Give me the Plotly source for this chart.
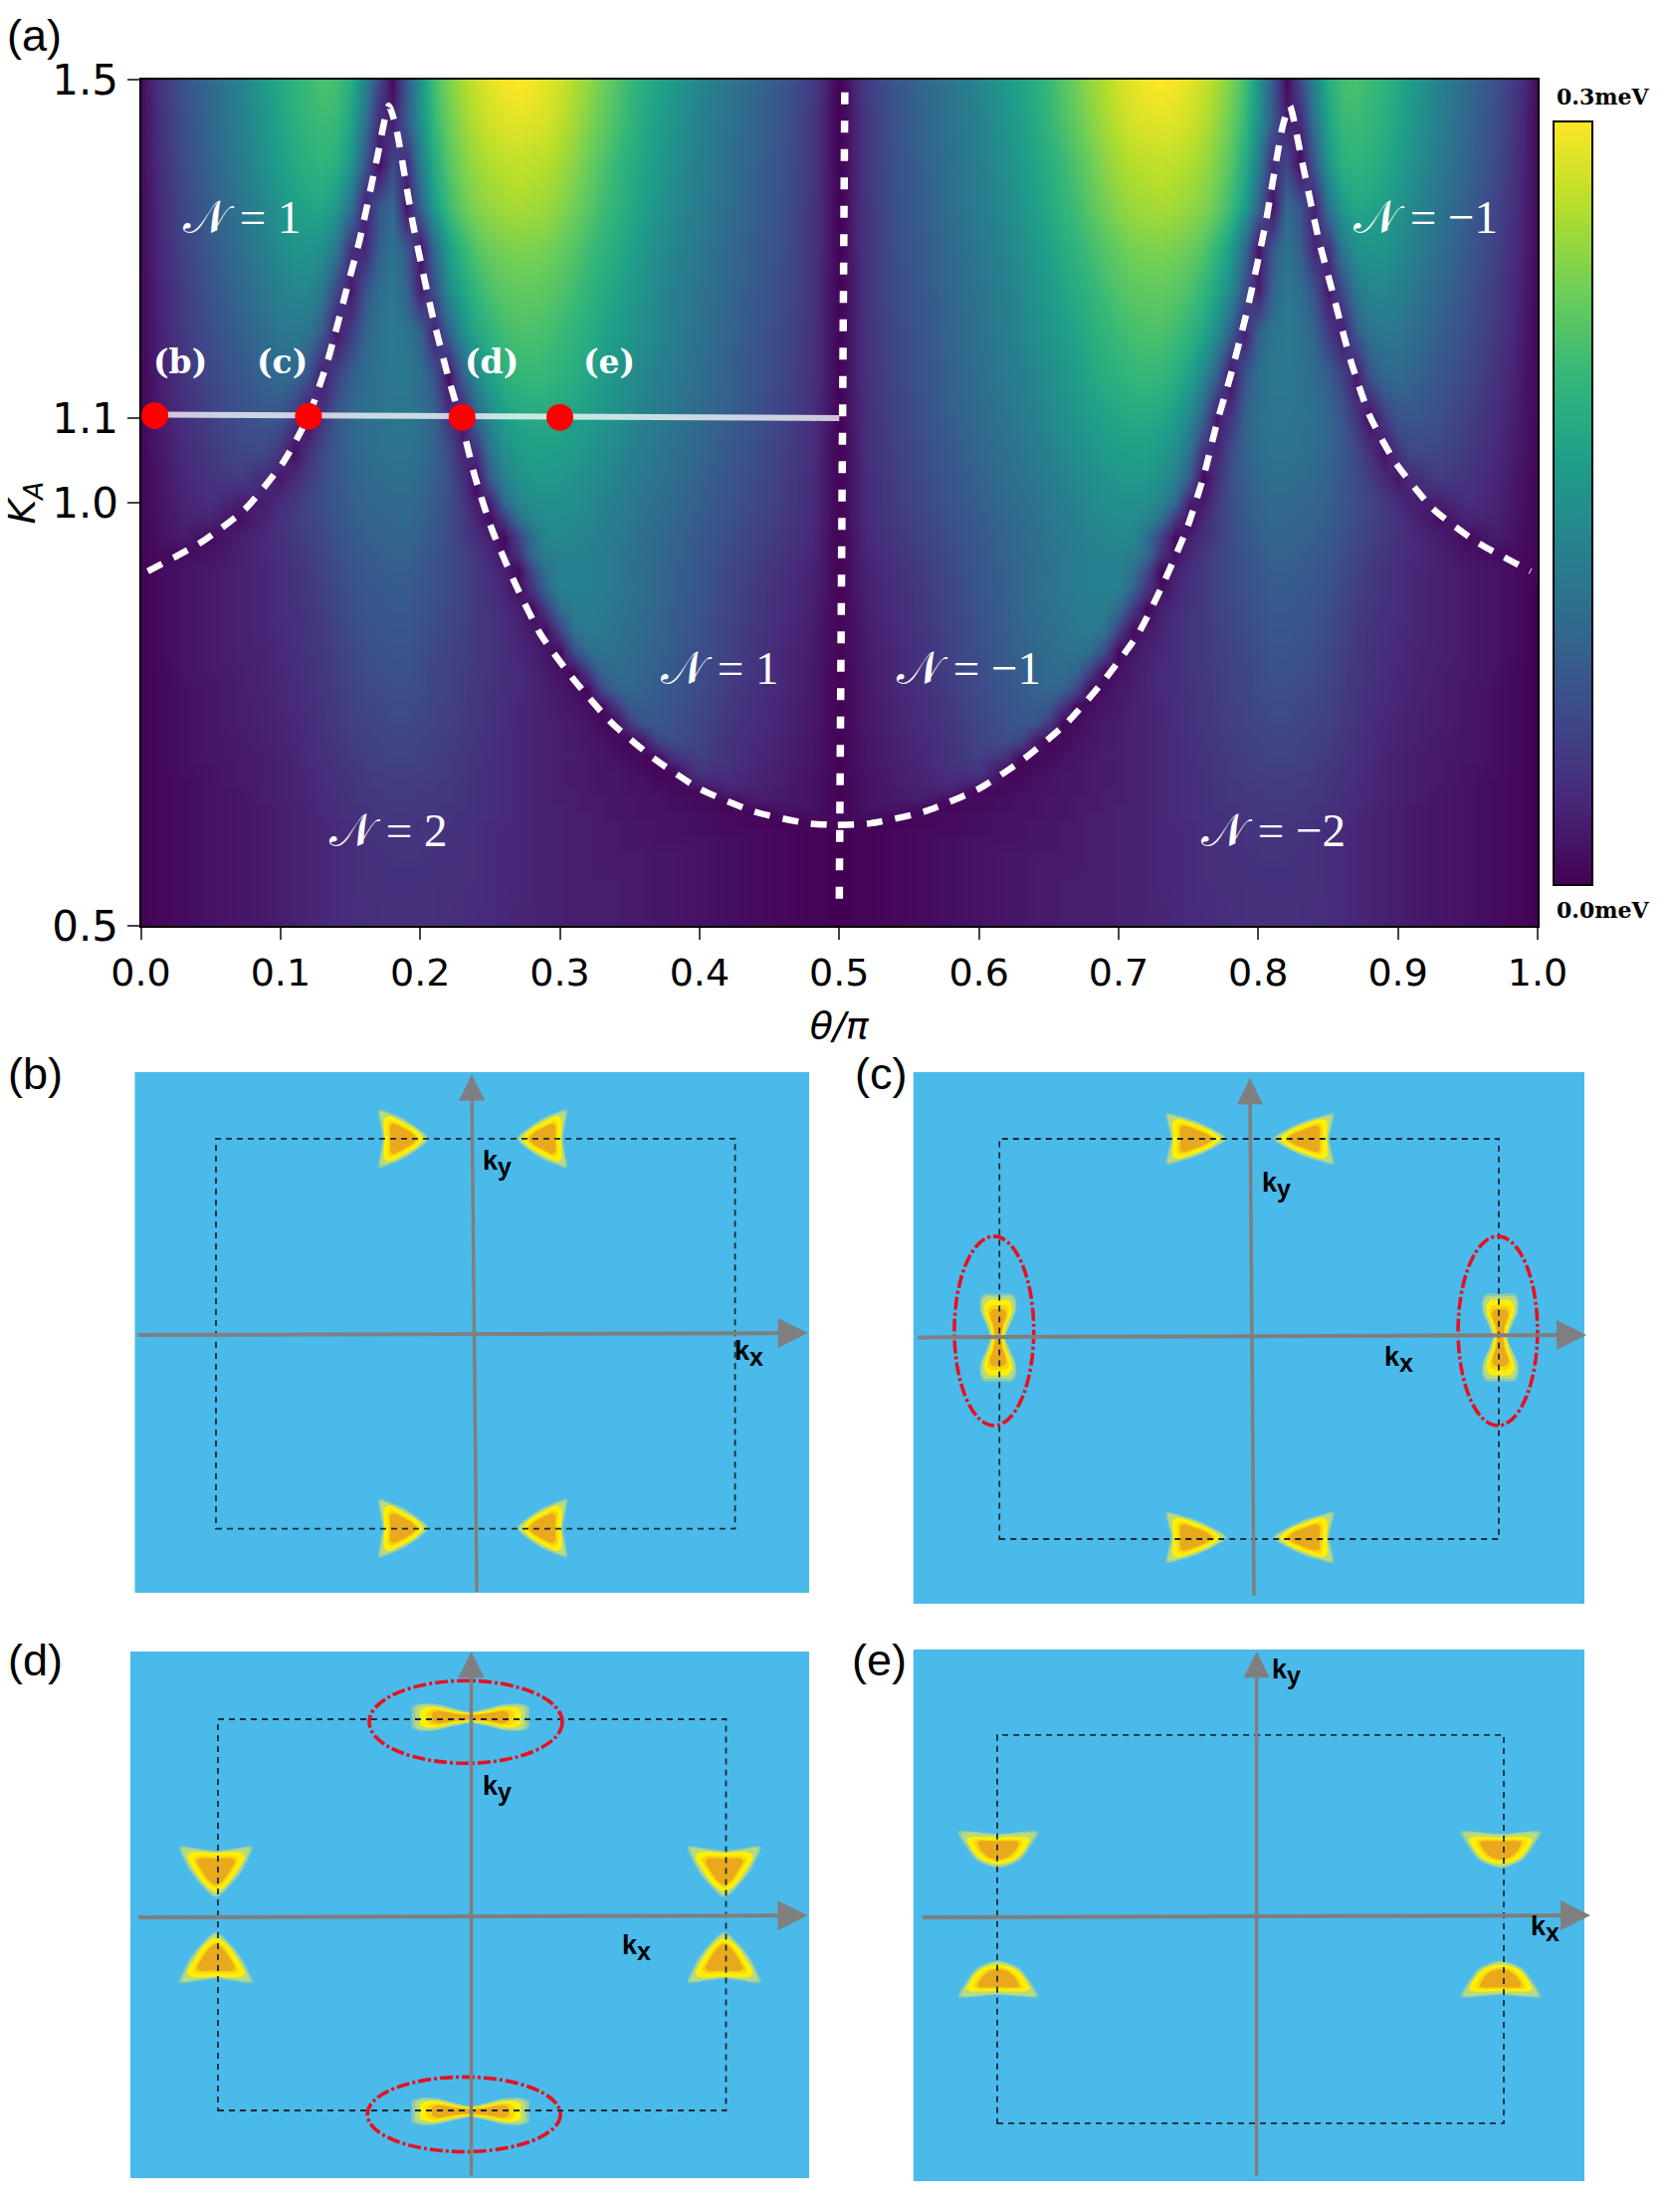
import plotly.graph_objects as go

# ---------- panel (a): gap map, percent of the 0.3 meV scale ----------
theta_left = [0, .005, .015, .03, .05, .07, .09, .10, .11, .12, .13, .14, .15, .16, .17, .18, .19, .20, .21, .22,
              .23, .24, .25, .26, .27, .28]
theta_right = [.29, .30, .31, .32, .33, .34, .35, .36, .37, .38, .40, .42, .44, .46, .48, .49, .495, .50]
kappa_rows = [1.5, 1.45, 1.4, 1.35, 1.3, 1.25, 1.2, 1.15, 1.1, 1.06, 1.03, 1.0, .98, .96, .94, .92, .9, .875, .85,
              .825, .8, .78, .76, .74, .72, .7, .69, .68, .67, .66, .65, .64, .63, .62, .61, .6, .58, .55, .5]
gap_left = [
 [2,8,16,25,34,44,55,60,65,68,71,70,62,45,22,2,28,52,70,80,87,92,96,99,100,99],
 [2,7,15,24,33,43,53,58,63,66,68,67,58,38,12,8,28,50,67,77,84,89,93,95,96,95],
 [2,7,14,23,32,41,51,56,60,63,65,63,52,28,2,22,12,42,62,73,80,85,88,90,91,90],
 [2,6,13,21,30,38,47,52,56,58,59,54,38,8,26,34,4,32,55,68,76,81,84,86,87,86],
 [2,6,12,20,28,36,44,48,51,52,50,40,14,10,30,38,28,4,35,55,66,73,77,79,80,80],
 [2,5,11,18,26,33,40,44,46,46,40,22,6,26,36,40,32,8,24,47,58,66,71,74,75,75],
 [2,5,10,17,24,30,36,39,40,38,28,6,18,32,38,41,39,32,8,30,49,59,65,69,71,71],
 [2,4,9,15,22,27,32,34,33,26,6,20,30,35,38,40,40,36,26,3,30,47,57,63,66,67],
 [2,4,8,13,19,24,27,26,18,3,16,27,33,36,38,39,39,37,31,16,6,32,47,55,59,60],
 [1,4,7,12,17,21,22,16,4,14,22,28,32,35,37,38,38,36,31,23,10,14,38,49,54,56],
 [1,3,6,11,15,18,12,6,12,18,23,27,31,33,35,36,36,34,30,24,14,2,30,44,50,53],
 [1,3,6,10,13,8,8,13,17,21,24,27,30,32,33,34,34,32,29,24,17,7,8,34,45,49],
 [1,3,5,9,10,4,11,15,18,20,23,26,29,31,32,33,33,31,28,24,18,11,3,16,36,45],
 [1,2,5,8,3,8,12,14,17,19,22,25,28,30,31,32,32,30,27,23,18,13,8,3,20,36],
 [1,2,3,3,5,9,12,14,16,18,21,24,27,29,30,31,31,29,26,23,20,16,11,4,14,34],
 [1,1,3,5,7,9,11,13,15,17,20,23,26,28,29,30,30,28,25,23,20,17,13,9,2,22],
 [0,1,3,5,7,9,11,13,15,17,19,22,25,27,28,29,29,27,25,23,20,17,14,10,3,16],
 [0,1,3,5,7,9,11,13,14,16,18,21,24,26,27,28,28,26,24,22,20,17,15,12,9,2],
 [0,1,3,5,7,9,11,12,14,15,17,20,23,25,26,27,27,25,23,21,19,17,15,13,10,7],
 [0,1,3,5,7,9,10,12,13,15,17,19,22,24,25,26,26,24,22,20,19,17,15,13,11,9],
 [0,1,2,5,7,8,10,11,13,14,16,18,21,23,24,25,25,23,21,20,18,17,15,13,12,10],
 [0,1,2,4,6,8,10,11,12,14,16,18,20,22,23,24,24,23,21,20,18,16,15,13,12,10],
 [0,1,2,4,6,8,9,11,12,13,15,17,19,21,22,23,23,22,20,19,18,16,14,13,11,10],
 [0,1,2,4,6,8,9,10,11,13,15,17,19,20,21,22,22,21,20,19,17,16,14,13,11,10],
 [0,1,2,4,6,7,9,10,11,12,14,16,18,19,20,21,21,20,19,18,17,15,14,12,11,10],
 [0,1,2,4,6,7,8,9,10,12,14,15,17,18,19,20,20,19,18,17,16,15,13,12,11,10],
 [0,1,2,4,5,7,8,9,10,12,13,15,16,18,19,19,19,19,18,17,16,15,13,12,11,10],
 [0,1,2,4,5,7,8,9,10,11,13,14,16,17,18,19,19,18,18,17,16,14,13,12,11,10],
 [0,1,2,3,5,7,8,9,10,11,13,14,15,17,18,18,18,18,17,16,15,14,13,12,11,10],
 [0,1,2,3,5,6,8,9,10,11,12,14,15,16,17,18,18,17,17,16,15,14,13,12,11,10],
 [0,1,2,3,5,6,8,9,10,11,12,13,15,16,17,17,17,17,16,16,15,14,13,12,11,10],
 [0,1,2,3,5,6,7,8,9,10,12,13,14,15,16,17,17,16,16,15,15,14,13,12,11,10],
 [0,1,2,3,5,6,7,8,9,10,11,13,14,15,16,16,16,16,16,15,14,14,13,12,11,10],
 [0,1,2,3,5,6,7,8,9,10,11,12,13,14,15,16,16,15,15,15,14,13,12,12,11,10],
 [0,1,2,3,5,6,7,8,9,10,11,12,13,14,15,15,15,15,15,14,14,13,12,11,11,10],
 [0,1,2,3,5,6,7,8,9,10,11,12,13,14,15,15,15,15,15,14,14,13,12,11,11,10],
 [0,1,2,3,5,6,7,8,9,10,11,12,13,14,14,15,15,15,14,14,13,13,12,11,11,10],
 [0,1,2,3,5,6,7,8,9,10,11,12,13,14,14,14,14,14,14,14,13,13,12,11,11,10],
 [0,1,2,3,5,6,7,8,9,10,11,12,13,13,14,14,14,14,14,13,13,12,12,11,10,10],
]
gap_right = [
 [96,93,88,84,78,73,67,62,58,54,46,39,33,27,18,10,4,1],
 [94,90,86,81,76,71,66,60,56,52,44,38,32,26,17,9,4,1],
 [89,86,82,77,72,67,62,58,54,50,43,37,31,25,17,9,4,1],
 [85,82,78,74,69,65,60,56,52,48,42,36,30,25,16,9,4,1],
 [79,76,73,69,65,61,57,53,49,46,40,34,29,24,16,9,4,1],
 [74,72,69,65,61,58,54,51,47,44,38,33,28,23,16,8,4,1],
 [70,68,65,62,58,55,52,49,46,43,37,32,27,22,15,8,4,1],
 [66,64,62,59,55,52,49,46,43,41,36,31,26,21,15,8,4,1],
 [60,59,57,55,52,50,47,44,42,39,34,30,25,20,14,8,4,1],
 [56,55,54,52,49,47,44,42,39,37,33,28,24,19,14,7,3,1],
 [53,53,51,49,47,45,42,40,38,36,31,27,23,18,13,7,3,1],
 [50,50,49,47,45,43,41,38,36,34,30,26,22,18,13,7,3,1],
 [48,48,47,46,44,42,40,37,35,33,29,25,21,17,12,7,3,1],
 [46,47,46,45,43,41,39,36,34,32,28,24,20,16,12,6,3,1],
 [43,45,45,44,42,40,38,36,34,32,27,23,19,15,11,6,3,1],
 [38,44,44,44,42,40,37,35,33,31,27,22,18,14,10,6,3,1],
 [33,44,44,44,42,40,38,36,33,31,27,22,17,13,9,6,3,1],
 [18,36,42,42,41,39,37,35,33,30,26,21,17,13,9,5,3,1],
 [3,20,38,41,40,38,36,34,32,30,25,20,16,12,8,5,3,1],
 [6,2,24,36,38,37,35,33,31,29,24,20,15,11,8,5,3,1],
 [8,5,2,18,32,35,34,32,30,28,23,19,15,11,7,4,2,1],
 [8,7,4,2,22,32,33,31,29,27,23,18,14,11,7,4,2,1],
 [9,7,6,4,2,16,28,29,28,26,22,17,13,10,7,4,2,1],
 [9,8,7,6,3,2,18,27,27,25,21,16,13,10,7,4,2,1],
 [9,8,7,6,5,3,2,8,22,24,20,15,12,9,6,4,2,1],
 [9,8,8,7,6,5,3,2,3,14,19,15,11,9,6,4,2,1],
 [9,8,7,7,6,5,4,3,1,6,17,14,11,8,6,4,2,1],
 [9,8,7,7,6,6,5,4,2,2,15,13,10,8,5,3,2,1],
 [9,8,7,7,6,6,5,5,3,2,9,12,10,8,5,3,2,1],
 [9,8,8,7,6,6,5,5,4,3,2,10,9,7,5,3,2,1],
 [9,8,8,7,7,6,6,5,5,4,3,3,8,7,5,3,2,1],
 [9,9,8,7,7,6,6,5,5,4,3,2,3,6,5,3,2,1],
 [9,9,8,8,7,6,6,5,5,5,4,3,2,2,4,3,2,1],
 [9,9,8,8,7,7,6,6,5,5,4,3,2,1,1,1,1,0],
 [9,9,8,8,7,7,6,6,5,5,4,3,3,2,1,1,0,0],
 [9,9,8,8,7,7,6,6,5,5,5,4,3,2,1,1,0,0],
 [9,9,8,8,7,7,7,7,6,6,5,4,3,2,1,1,0,0],
 [9,9,8,8,8,8,7,7,6,6,5,4,3,2,1,1,0,0],
 [9,9,8,8,8,8,7,7,6,6,5,4,3,2,1,1,0,0],
]
# phase boundary, left half of the map
boundary_theta = [.005, .044, .075, .102, .12, .134, .147, .157, .169, .1775, .1825, .195, .208, .22, .2295, .239,
                  .251, .267, .286, .31, .337, .368, .40, .439, .478, .501]
boundary_kappa = [.919, .954, .993, 1.048, 1.102, 1.169, 1.25, 1.313, 1.406, 1.469, 1.445, 1.328, 1.227, 1.149,
                  1.095, 1.032, .97, .908, .845, .791, .74, .697, .662, .635, .621, .619]
cut_theta = [.01, .5]
cut_kappa = [1.104, 1.1]
dot_theta = [.01, .12, .23, .30]
dot_kappa = [1.103, 1.102, 1.101, 1.101]
dot_names = ["(b)", "(c)", "(d)", "(e)"]
dot_name_theta = [.028, .1012, .251, .335]
dot_name_kappa = [1.167] * 4
mid_theta = [.504, .5]
mid_kappa = [1.485, .52]
phase_text = ["𝒩 = 1", "𝒩 = 1", "𝒩 = 2", "𝒩 = −1", "𝒩 = −1", "𝒩 = −2"]
phase_theta = [.073, .415, .1775, .92, .593, .811]
phase_kappa = [1.338, .805, .613, 1.338, .805, .613]
x_tick_vals = [0, .1, .2, .3, .4, .5, .6, .7, .8, .9, 1]
x_tick_text = ["0.0", "0.1", "0.2", "0.3", "0.4", "0.5", "0.6", "0.7", "0.8", "0.9", "1.0"]
y_tick_vals = [.5, 1.0, 1.1, 1.5]
y_tick_text = ["0.5", "1.0", "1.1", "1.5"]

# ---------- panels (b)-(e): pockets in units of the dashed zone half-width ----------
# each pocket: kx, ky, shape, direction, half-size along direction, half-size across
panels = {
    "b": dict(axis=2, box=(135.5, 813, 1077, 1600), zone=(217, 738.6, 1143.9, 1535.7),
              pockets=[(-.279, 1.0, "tri", "R", .09, .146), (.258, 1.0, "tri", "L", .09, .146),
                       (-.279, -.997, "tri", "R", .09, .146), (.258, -.997, "tri", "L", .09, .146)],
              xarrow=(-1.307, -.006, 1.28, .004), yarrow=(.005, -1.329, -.015, 1.329),
              kx=(1.053, -.103), ky=(.085, .877), rings=[]),
    "c": dict(axis=3, box=(917.8, 1592, 1077, 1611), zone=(1004.2, 1506, 1144, 1546),
              pockets=[(-.213, 1.0, "tri", "R", .114, .124), (.22, 1.0, "tri", "L", .114, .124),
                       (-.213, -.9925, "tri", "R", .114, .124), (.22, -.9925, "tri", "L", .114, .124),
                       (-1.005, .007, "bow", "R", .069, .2125), (1.006, .007, "bow", "R", .069, .2125)],
              xarrow=(-1.332, .008, 1.351, .02), yarrow=(.0195, -1.291, .003, 1.303),
              kx=(.601, -.1025), ky=(.111, .769),
              rings=[(-1.0215, .04, .159, .473), (.996, .04, .159, .473)]),
    "d": dict(axis=4, box=(131, 813, 1659, 2188), zone=(219, 729.5, 1727, 2120),
              pockets=[(-.006, 1.01, "bow", "U", .066, .225), (-.006, -1.005, "bow", "U", .066, .225),
                       (-1.008, .221, "tri", "D", .122, .141), (.993, .221, "tri", "D", .122, .141),
                       (-1.008, -.219, "tri", "U", .122, .141), (.993, -.219, "tri", "U", .122, .141)],
              xarrow=(-1.319, -.013, 1.321, -.003), yarrow=(-.003, -1.341, -.003, 1.346),
              kx=(.649, -.17), ky=(.1, .644),
              rings=[(-.0245, .986, .38, .211), (-.032, -1.02, .38, .191)]),
    "e": dict(axis=5, box=(917.8, 1592, 1657, 2191), zone=(1002, 1511, 1742.8, 2132.9),
              pockets=[(-.996, .41, "dome", "D", .089, .155), (.988, .41, "dome", "D", .089, .155),
                       (-.996, -.257, "dome", "U", .089, .155), (.988, -.257, "dome", "U", .089, .155)],
              xarrow=(-1.301, .061, 1.342, .071), yarrow=(.024, -1.277, .024, 1.43),
              kx=(1.165, 0), ky=(.14, 1.325), rings=[]),
}
# half outlines of pockets (u along the direction, v across it); the other half is the mirror image
tri_outer = ([-.88, -.97, -1.04, -.6, -.07, .55, 1.08], [0, .5, 1.02, .92, .74, .42, 0])
tri_core = ([-.8, -.8, -.62, -.07, .55, .84], [0, .7, .8, .6, .3, 0])
dome_outer = ([-.92, -1.02, -.75, -.3, .6, 1.06], [0, 1.02, .98, .86, .56, 0])
dome_core = ([-.7, -.7, -.58, .18, .66, .84], [0, .72, .8, .62, .36, 0])
# quarter outlines of the bow-tie pockets, one per layer
bow_layers = [
    ([.42, .7, 1.02, 1.04, .82, 0], [0, .3, .6, .88, 1.02, 1.02]),
    ([.38, .62, .92, .95, .74, 0], [0, .28, .58, .84, .96, .96]),
    ([.32, .45, .78, .78, .55, 0], [0, .25, .6, .76, .88, .88]),
    ([.24, .34, .6, .6, .38, 0], [0, .25, .55, .68, .76, .76]),
    ([.17, .25, .46, .46, .27, 0], [0, .25, .5, .6, .67, .67]),
]
pocket_layers = [("#8FCBA8", 1.0, 1.0, False), ("#B9DB80", .93, .92, False), ("#FFF000", 1.0, 1.0, True),
                 ("#F8D40E", .80, .78, True), ("#EAA91C", .68, .66, True)]
panel_letters = ["(a)", "(b)", "(c)", "(d)", "(e)"]
letter_x = [34, 35, 885, 35, 884]
letter_y = [35, 1078, 1078, 1667, 1667]

W, H = 1676, 2222
MAIN = (141.5, 1545, 80, 930)
BAR = (1560.7, 1599.6, 122, 889)

def xdom(a, b):
    return [a / W, b / W]

def ydom(top, bottom):
    return [1 - bottom / H, 1 - top / H]

def outline(kind, layer):
    colour, su, sv, inner = pocket_layers[layer]
    if kind == "bow":
        qu, qv = bow_layers[layer]
        us = list(qu) + [-a for a in qu[::-1]] + [-a for a in qu] + list(qu[::-1])
        vs = list(qv) + list(qv[::-1]) + [-a for a in qv] + [-a for a in qv[::-1]]
        return us, vs
    hu, hv = {"tri": (tri_core if inner else tri_outer), "dome": (dome_core if inner else dome_outer)}[kind]
    us = [a * su for a in hu] + [a * su for a in hu[-2::-1]]
    vs = [a * sv for a in hv] + [-a * sv for a in hv[-2::-1]]
    return us, vs

fig = go.Figure()
theta_half = theta_left + theta_right
theta_full = theta_half + [round(1 - t, 4) for t in theta_half[-2::-1]]
gap_half = [a + b for a, b in zip(gap_left, gap_right)]
gap_full = [row + row[-2::-1] for row in gap_half]
fig.add_trace(go.Heatmap(
    x=theta_full, y=kappa_rows[::-1], z=gap_full[::-1], zmin=0, zmax=100, colorscale="Viridis", zsmooth="best",
    hoverinfo="skip",
    colorbar=dict(thickness=BAR[1] - BAR[0], thicknessmode="pixels", len=(BAR[3] - BAR[2]) / H, lenmode="fraction",
                  x=BAR[0] / W, xanchor="left", y=1 - BAR[2] / H, yanchor="top", xpad=0, ypad=0, outlinewidth=2,
                  outlinecolor="black", ticks="", showticklabels=False)))
fig.add_trace(go.Scatter(x=cut_theta, y=cut_kappa, mode="lines", line=dict(color="rgba(255,255,255,.75)", width=6),
                         hoverinfo="skip"))
curve_style = dict(color="white", width=6.5, dash="16px,13px", shape="spline", smoothing=.6)
fig.add_trace(go.Scatter(x=boundary_theta, y=boundary_kappa, mode="lines", line=curve_style, hoverinfo="skip"))
fig.add_trace(go.Scatter(x=[round(1 - t, 4) for t in boundary_theta[::-1]], y=boundary_kappa[::-1], mode="lines",
                         line=curve_style, hoverinfo="skip"))
fig.add_trace(go.Scatter(x=mid_theta, y=mid_kappa, mode="lines", line=dict(color="white", width=7.5, dash="12px,16.5px"),
                         hoverinfo="skip"))
fig.add_trace(go.Scatter(x=dot_theta, y=dot_kappa, mode="markers", marker=dict(color="#FF0000", size=27),
                         hoverinfo="skip"))

layout = dict(
    width=W, height=H, margin=dict(l=0, r=0, t=0, b=0, autoexpand=False), paper_bgcolor="white", plot_bgcolor="#4ABAEA",
    showlegend=False, font=dict(family="DejaVu Sans", color="black"),
    xaxis=dict(domain=xdom(MAIN[0], MAIN[1]), range=[0, 1], tickmode="array", tickvals=x_tick_vals, ticktext=x_tick_text,
               ticks="outside", ticklen=12, tickwidth=2, linecolor="black", linewidth=2, mirror=True, showgrid=False,
               zeroline=False, tickfont=dict(size=38), automargin=False,
               title=dict(text="<i>θ/π</i>", font=dict(size=38), standoff=19)),
    yaxis=dict(domain=ydom(MAIN[2], MAIN[3]), range=[.5, 1.5], tickmode="array", tickvals=y_tick_vals, ticktext=y_tick_text,
               ticks="outside", ticklen=12, tickwidth=2, linecolor="black", linewidth=2, mirror=True, showgrid=False,
               zeroline=False, tickfont=dict(size=42), automargin=False,
               title=dict(text="<i>K<sub>A</sub></i>", font=dict(size=38), standoff=10)),
)
annotations, shapes = [], []

for t, th, ka in zip(phase_text, phase_theta, phase_kappa):
    annotations.append(dict(x=th, y=ka, xref="x", yref="y", text=t, showarrow=False,
                            font=dict(family="Liberation Serif, DejaVu Serif", size=47, color="white")))
for t, th, ka in zip(dot_names, dot_name_theta, dot_name_kappa):
    annotations.append(dict(x=th, y=ka, xref="x", yref="y", text="<b>" + t + "</b>", showarrow=False,
                            font=dict(family="DejaVu Serif", size=33, color="white")))
for t, y in [("0.3meV", 97.5), ("0.0meV", 914)]:
    annotations.append(dict(x=1611 / W, y=1 - y / H, xref="paper", yref="paper", xanchor="center", yanchor="middle",
                            text="<b>" + t + "</b>", showarrow=False,
                            font=dict(family="DejaVu Serif", size=22, color="black")))
for t, x, y in zip(panel_letters, letter_x, letter_y):
    annotations.append(dict(x=x / W, y=1 - y / H, xref="paper", yref="paper", xanchor="center", yanchor="middle",
                            text=t, showarrow=False, font=dict(family="Liberation Sans", size=45, color="black")))

for name, p in panels.items():
    n = p["axis"]
    xa, ya = f"x{n}", f"y{n}"
    L, R, T, B = p["box"]
    zl, zr, zt, zb = p["zone"]
    cx, cy, sx, sy = (zl + zr) / 2, (zt + zb) / 2, (zr - zl) / 2, (zb - zt) / 2
    hidden = dict(visible=False, showgrid=False, zeroline=False)
    layout[f"xaxis{n}"] = dict(domain=xdom(L, R), range=[(L - cx) / sx, (R - cx) / sx], anchor=ya, **hidden)
    layout[f"yaxis{n}"] = dict(domain=ydom(T, B), range=[(cy - B) / sy, (cy - T) / sy], anchor=xa, **hidden)
    for layer, (colour, _, _, _) in enumerate(pocket_layers):
        xs, ys = [], []
        for kx0, ky0, kind, way, hu, hv in p["pockets"]:
            us, vs = outline(kind, layer)
            for u, v in zip(us, vs):
                a, b = u * hu, v * hv
                if way == "R":
                    xs.append(kx0 + a); ys.append(ky0 + b)
                elif way == "L":
                    xs.append(kx0 - a); ys.append(ky0 + b)
                elif way == "U":
                    xs.append(kx0 + b); ys.append(ky0 + a)
                else:
                    xs.append(kx0 + b); ys.append(ky0 - a)
            xs.append(None); ys.append(None)
        fig.add_trace(go.Scatter(x=xs, y=ys, xaxis=xa, yaxis=ya, mode="lines", fill="toself", fillcolor=colour,
                                 line=dict(width=0, shape="spline", smoothing=.8, color=colour), hoverinfo="skip"))
    shapes.append(dict(type="rect", xref=xa, yref=ya, x0=-1, x1=1, y0=-1, y1=1,
                       line=dict(color="#1c2a33", width=1.8, dash="6px,5px")))
    for rx0, ry0, rx, ry in p["rings"]:
        shapes.append(dict(type="circle", xref=xa, yref=ya, x0=rx0 - rx, x1=rx0 + rx, y0=ry0 - ry, y1=ry0 + ry,
                           line=dict(color="#E8101F", width=3.6, dash="13px,3px,3px,3px")))
    for (x0, y0, x1, y1), w in [(p["xarrow"], 4), (p["yarrow"], 3.5)]:
        annotations.append(dict(x=x1, y=y1, ax=x0, ay=y0, xref=xa, yref=ya, axref=xa, ayref=ya, text="", showarrow=True,
                                arrowhead=2, arrowsize=1.5, arrowwidth=w, arrowcolor="#7F7F7F", standoff=0))
    for base, sub, key in [("k", "x", "kx"), ("k", "y", "ky")]:
        annotations.append(dict(x=p[key][0], y=p[key][1], xref=xa, yref=ya, showarrow=False,
                                text=f'<b>{base}<sub><span style="font-size:25px">{sub}</span></sub></b>',
                                font=dict(family="Liberation Sans", size=27, color="black")))

layout["annotations"] = annotations
layout["shapes"] = shapes
fig.update_layout(**layout)
fig.write_html("out.html", config={"displayModeBar": False},
               post_script="document.body.style.margin='0';document.body.style.overflow='hidden';")
